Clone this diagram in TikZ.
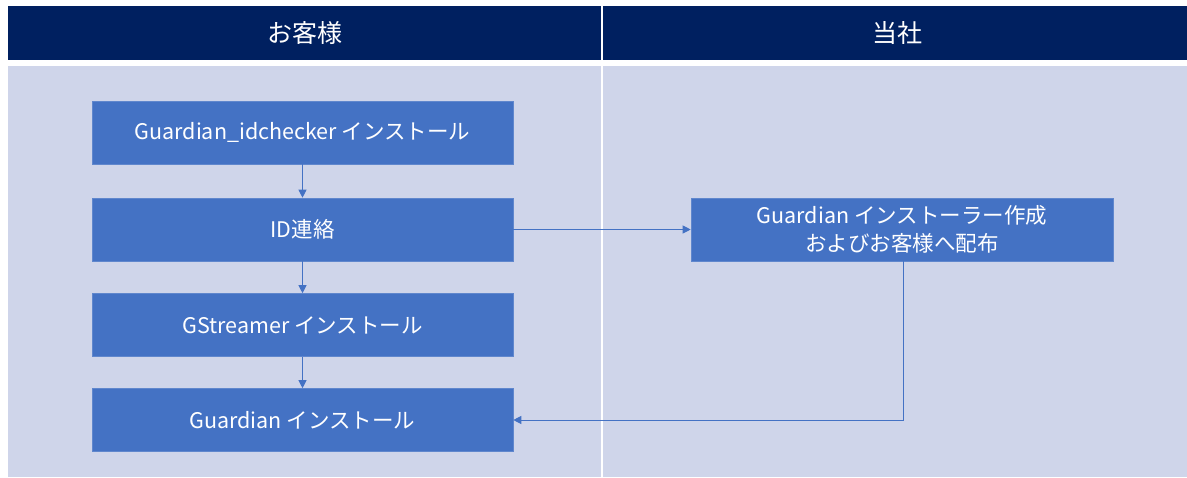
\documentclass[tikz,border=0pt]{standalone}
\usepackage{fontspec}
\setmainfont{Noto Sans CJK JP}
\usetikzlibrary{arrows.meta}
\definecolor{navy}{HTML}{002060}
\definecolor{lane}{HTML}{CFD5EA}
\definecolor{boxblue}{HTML}{4472C4}
\tikzset{
  stepbox/.style={draw=boxblue!85!white, line width=0.6pt, fill=boxblue, text=white, minimum width=421pt, minimum height=63pt, inner sep=0pt, font=\fontsize{21.5}{28}\selectfont, align=center},
  flow/.style={draw=boxblue, line width=1pt, -{Triangle[length=8pt,width=8pt]}},
  headtext/.style={text=white, font=\fontsize{25}{30}\selectfont}
}
\begin{document}
\begin{tikzpicture}[x=1pt,y=-1pt]
\useasboundingbox (0,0) rectangle (1187,477);
\fill[navy] (8,6) rectangle (1187,60);
\fill[lane] (8,66) rectangle (1187,477);
\draw[white, line width=1.5pt] (602,6) -- (602,477);
\node[headtext] (h1) at (305,33) {お客様};
\node[headtext] (h2) at (897,33) {当社};
\node[stepbox] (b1) at (302.5,132.5) {Guardian\_idchecker インストール};
\node[stepbox] (b2) at (302.5,229.5) {ID連絡};
\node[stepbox] (b3) at (302.5,325) {GStreamer インストール};
\node[stepbox] (b4) at (302.5,420) {Guardian インストール};
\node[stepbox, minimum width=422pt] (b5) at (902,229.5) {Guardian インストーラー作成\\およびお客様へ配布};
\draw[flow] (b1) -- (b2);
\draw[flow] (b2) -- (b3);
\draw[flow] (b3) -- (b4);
\draw[flow] (b2) -- (b5);
\draw[flow] (b5.south) ++(1,0) coordinate (c1) |- (b4.east);
\end{tikzpicture}
\end{document}
